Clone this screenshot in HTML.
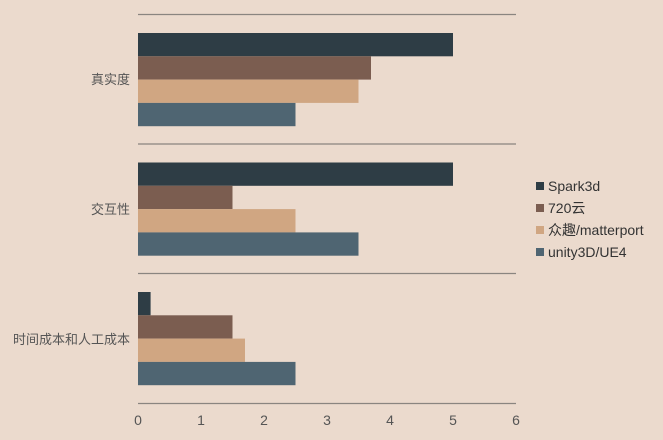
<!DOCTYPE html><html><head><meta charset="utf-8"><style>body{margin:0;background:#ebdacd;}svg{display:block}</style></head><body>
<svg width="663" height="440" xmlns="http://www.w3.org/2000/svg" font-family="'Liberation Sans','Noto Sans CJK SC',sans-serif">
<rect width="663" height="440" fill="#ebdacd"/>
<g stroke="#8a8580" stroke-width="1.2">
<line x1="138" x2="516" y1="14.5" y2="14.5"/><line x1="138" x2="516" y1="144" y2="144"/><line x1="138" x2="516" y1="273.5" y2="273.5"/><line x1="138" x2="516" y1="403.5" y2="403.5"/>
</g>
<rect x="138" y="33" width="315" height="23.3" fill="#2e3d45"/>
<rect x="138" y="56.3" width="233" height="23.3" fill="#7b5d50"/>
<rect x="138" y="79.6" width="220.5" height="23.3" fill="#d0a682"/>
<rect x="138" y="102.9" width="157.5" height="23.3" fill="#4f6572"/>
<rect x="138" y="162.5" width="315" height="23.3" fill="#2e3d45"/>
<rect x="138" y="185.8" width="94.5" height="23.3" fill="#7b5d50"/>
<rect x="138" y="209.1" width="157.5" height="23.3" fill="#d0a682"/>
<rect x="138" y="232.4" width="220.5" height="23.3" fill="#4f6572"/>
<rect x="138" y="292" width="12.6" height="23.3" fill="#2e3d45"/>
<rect x="138" y="315.3" width="94.5" height="23.3" fill="#7b5d50"/>
<rect x="138" y="338.6" width="107" height="23.3" fill="#d0a682"/>
<rect x="138" y="361.9" width="157.5" height="23.3" fill="#4f6572"/>
<g font-size="13" fill="#555" text-anchor="end">
<text x="130" y="84">真实度</text><text x="130" y="214">交互性</text><text x="130" y="344">时间成本和人工成本</text>
</g>
<g font-size="14" fill="#555" text-anchor="middle">
<text x="138" y="425">0</text><text x="201" y="425">1</text><text x="264" y="425">2</text><text x="327" y="425">3</text><text x="390" y="425">4</text><text x="453" y="425">5</text><text x="516" y="425">6</text>
</g>
<g font-size="14" fill="#333">
<rect x="536" y="182" width="8" height="8" fill="#2e3d45"/><text x="548" y="191">Spark3d</text>
<rect x="536" y="204" width="8" height="8" fill="#7b5d50"/><text x="548" y="213">720云</text>
<rect x="536" y="226" width="8" height="8" fill="#d0a682"/><text x="548" y="235">众趣/matterport</text>
<rect x="536" y="248" width="8" height="8" fill="#4f6572"/><text x="548" y="257">unity3D/UE4</text>
</g>
</svg></body></html>
